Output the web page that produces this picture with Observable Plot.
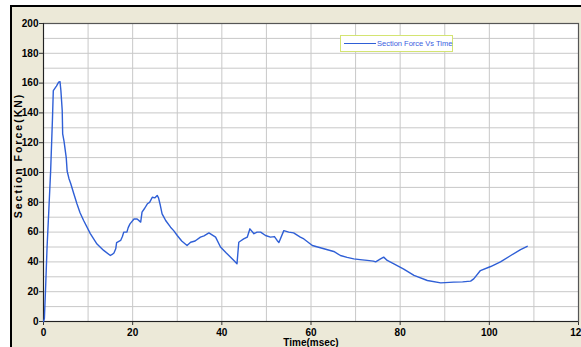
<!DOCTYPE html>
<html>
<head>
<meta charset="utf-8">
<script src="https://cdn.jsdelivr.net/npm/d3@7"></script>
<script src="https://cdn.jsdelivr.net/npm/@observablehq/plot@0.6"></script>
<style>
  html, body { margin: 0; padding: 0; background: #ffffff; width: 581px; height: 347px; overflow: hidden; }
  #wrap { position: absolute; left: 10px; top: 5px; width: 569px; height: 340px;
          border-left: 2px solid #000; border-top: 2px solid #000; background: #ece9d8; }
  #legend { position: absolute; left: 340px; top: 35px; width: 111px; height: 15px;
            border: 1px solid #d4e472; background: #fff; font-family: "Liberation Sans", Arial, sans-serif;
            font-size: 7.5px; color: #3a5ee0; white-space: nowrap; }
  #legend .ln { position: absolute; left: 3px; top: 7px; width: 32px; height: 0; border-top: 1.5px solid #2f5fd6; }
  #legend .tx { position: absolute; left: 36px; top: 3px; line-height: 9px; }
</style>
</head>
<body>
<div id="wrap"></div>
<div id="legend"><span class="ln"></span><span class="tx">Section Force Vs Time</span></div>
<script>
const time = [
  0, 0.2, 0.5, 0.8, 1.2, 1.6, 2.0, 2.2, 2.9, 3.4,
  3.7, 3.9, 4.2, 4.3, 4.6, 5.1, 5.3, 5.7, 6.1, 6.8,
  7.5, 8.2, 9.0, 10.5, 12.0, 13.5, 15.0, 15.4, 15.8, 16.2,
  16.4, 17.3, 17.7, 18.0, 18.7, 19.0, 19.4, 20.3, 21.0, 21.8,
  22.1, 22.7, 23.3, 23.8, 24.4, 25.0, 25.5, 25.8, 26.2, 26.6,
  27.0, 27.4, 28.5, 29.2, 30.0, 31.0, 32.2, 33.0, 34.0, 35.2,
  36.0, 37.1, 38.6, 39.7, 41.0, 42.7, 43.4, 43.8, 44.2, 44.9,
  45.7, 46.3, 47.2, 47.9, 48.7, 49.8, 50.9, 51.8, 52.4, 52.8,
  53.9, 55.0, 56.1, 57.6, 58.4, 60.3, 61.5, 62.9, 65.1, 66.6,
  68.1, 69.6, 71.0, 72.6, 74.0, 74.5, 75.6, 76.3, 77.1, 78.6,
  80.8, 83.1, 86.1, 89.1, 92.0, 94.0, 95.8, 96.5, 98.0, 100.3,
  102.5, 104.8, 107.0, 108.5
];
const force = [
  0, 2, 25, 50, 75, 101, 135, 155, 158, 160.6,
  161, 155, 141.6, 126, 121, 110, 101, 96, 92.6, 85.7,
  79, 73, 67.8, 59, 52, 47.7, 44.3, 45, 46, 48.8,
  53, 54.4, 57, 60, 60, 63, 65.5, 68.8, 68.8, 66.7,
  73.4, 76, 79, 80, 83.4, 83, 84.6, 83, 78, 72.2,
  70, 67.8, 63.3, 61, 57.7, 54, 51, 53.2, 54, 56.6,
  57.5, 59.5, 56.6, 50, 46, 41, 38.7, 53.2, 54, 55.4,
  56.6, 62.2, 58.9, 60, 60, 57.7, 56.6, 57, 54.4, 53,
  61, 60, 59.5, 56.6, 55.4, 51, 50, 48.8, 47, 44.3,
  43, 42, 41.5, 41, 40.5, 40, 42, 43.2, 41, 38.7,
  35.2, 30.9, 27.5, 25.9, 26.4, 26.6, 27.1, 28.6, 34.2, 36.9,
  40, 44.3, 48.3, 50.5
];
const xTicks = [0, 20, 40, 60, 80, 100, 120];
const yTicks = [0, 20, 40, 60, 80, 100, 120, 140, 160, 180, 200];
const xGrid = d3.range(0, 121, 10);
const yGrid = d3.range(0, 201, 10);
const xLabel = "Time(msec)";
const yLabel = "Section Force(KN)";

const data = time.map((t, i) => ({t, f: force[i]}));

const chart = Plot.plot({
  width: 569,
  height: 340,
  marginLeft: 31,
  marginTop: 16,
  marginRight: 3,
  marginBottom: 26,
  style: { background: "transparent", fontFamily: "'Liberation Sans', Arial, sans-serif", fontSize: "10px", fontWeight: "bold", color: "#000", overflow: "visible" },
  x: { domain: [0, 120] },
  y: { domain: [0, 200] },
  marks: [
    Plot.frame({ fill: "#fff", stroke: null }),
    Plot.gridX(xGrid, { stroke: "#c8c8c8", strokeOpacity: 1 }),
    Plot.gridY(yGrid, { stroke: "#c8c8c8", strokeOpacity: 1 }),
    Plot.axisX(xTicks, { tickSize: 4, tickPadding: 3, label: null, stroke: "#333", fill: "#000" }),
    Plot.axisY(yTicks, { tickSize: 4, tickPadding: 1, label: null, stroke: "#333", fill: "#000" }),
    Plot.frame({ stroke: "#555", strokeWidth: 1.2 }),
    Plot.ruleX([0], { stroke: "#222" }),
    Plot.ruleY([0], { stroke: "#222" }),
    Plot.line(data, { x: "t", y: "f", stroke: "#2f5fd6", strokeWidth: 1.4 }),
    Plot.text([xLabel], { frameAnchor: "bottom", lineAnchor: "middle", textAnchor: "middle", dy: 21, fill: "#000", fontWeight: "bold", fontSize: 10 }),
    Plot.text([yLabel], { frameAnchor: "left", textAnchor: "middle", lineAnchor: "middle", dx: -25, dy: -17, rotate: -90, fill: "#000", fontWeight: "bold", fontSize: 10.5 })
  ]
});
d3.select(chart).selectAll("text").filter(function() { return this.textContent === yLabel; })
  .style("letter-spacing", "2px");
document.getElementById("wrap").appendChild(chart);
</script>
</body>
</html>
